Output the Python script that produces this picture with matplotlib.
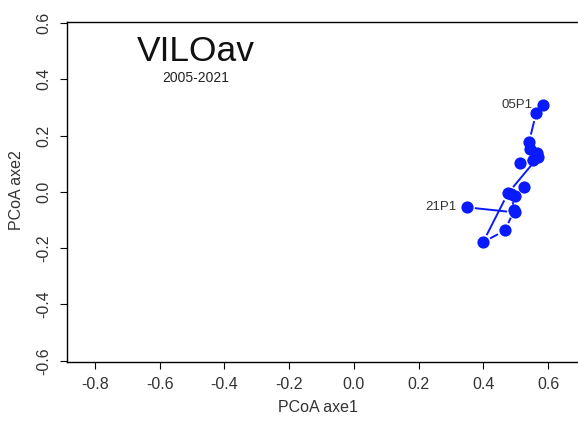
import matplotlib
matplotlib.use("Agg")
import matplotlib.pyplot as plt
import numpy as np

plt.rcParams["font.family"] = ["Liberation Sans", "DejaVu Sans"]

# PCoA trajectory, 2005 -> 2021
years = list(range(2005, 2022))
axe1 = [0.584, 0.563, 0.541, 0.544, 0.566, 0.553, 0.513, 0.569, 0.476,
        0.399, 0.467, 0.495, 0.498, 0.526, 0.485, 0.498, 0.349]
axe2 = [0.307, 0.279, 0.176, 0.151, 0.137, 0.112, 0.101, 0.123, -0.005,
        -0.179, -0.137, -0.066, -0.016, 0.016, -0.009, -0.073, -0.055]
labels = {0: "05P1", 16: "21P1"}

xticks = [-0.8, -0.6, -0.4, -0.2, 0.0, 0.2, 0.4, 0.6]
yticks = [-0.6, -0.4, -0.2, 0.0, 0.2, 0.4, 0.6]

W, H = 578, 421
fig = plt.figure(figsize=(W / 100, H / 100), dpi=100)
left, right = 66.7, 596.6
top, bottom = 21.7, 361.7
ax = fig.add_axes([left / W, (H - bottom) / H, (right - left) / W, (bottom - top) / H])
ax.set_xlim(-0.8875, 0.75)
ax.set_ylim(-0.6035, 0.6045)

# lines with gaps round the points (like R type="b")
gap = 8.0
pts = ax.transData.transform(np.column_stack([axe1, axe2]))
inv = ax.transData.inverted()
for i in range(len(pts) - 1):
    p, q = pts[i], pts[i + 1]
    d = q - p
    n = np.hypot(*d)
    if n <= 2 * gap:
        continue
    u = d / n
    a = inv.transform(p + u * gap)
    b = inv.transform(q - u * gap)
    ax.plot([a[0], b[0]], [a[1], b[1]], color="#0a1aff", lw=1.4, zorder=2,
            solid_capstyle="butt")

ax.plot(axe1, axe2, "o", color="#0a1aff", ms=8.8, mec="none", zorder=3)

for i, t in labels.items():
    ax.annotate(t, (axe1[i], axe2[i]), xytext=(-7.5, 0), textcoords="offset points",
                ha="right", va="center", fontsize=9.5, color="#333333")

ax.set_xticks(xticks)
ax.set_yticks(yticks)
ax.set_xticklabels([f"{v:.1f}" for v in xticks])
ax.set_yticklabels([f"{v:.1f}" for v in yticks], rotation=90, va="center")
ax.tick_params(direction="out", length=5, width=0.8, labelsize=11.5,
               colors="black", pad=6)
ax.tick_params(axis="x", labelcolor="#333333")
ax.tick_params(axis="y", labelcolor="#333333")
for s in ax.spines.values():
    s.set_linewidth(1.0)
    s.set_color("black")

fig.text(17 / W, 1 - 190 / H, "PCoA axe2", rotation=90, ha="center", va="center",
         fontsize=11.5, color="#333333")
fig.text(318 / W, 1 - 408 / H, "PCoA axe1", ha="center", va="center",
         fontsize=11.5, color="#333333")

fig.text(196 / W, 1 - 61.5 / H, "VILOav", ha="center", va="baseline",
         fontsize=25.5, color="#111111")
fig.text(196 / W, 1 - 81.5 / H, "2005-2021", ha="center", va="baseline",
         fontsize=10, color="#222222")

fig.savefig("out.png", dpi=100)
